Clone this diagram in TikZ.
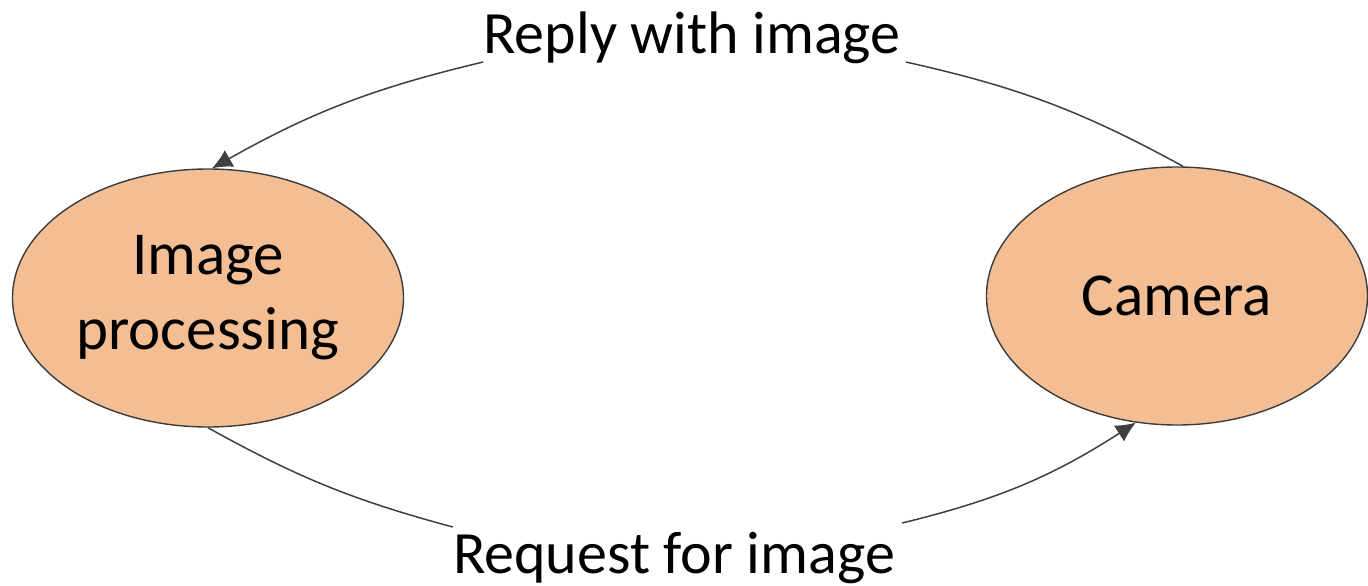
\documentclass[tikz,border=0pt]{standalone}
\usepackage{fontspec}
\setmainfont{Carlito}
\usetikzlibrary{shapes.geometric,arrows.meta}
\definecolor{ellfill}{HTML}{F3BE93}
\definecolor{ellline}{HTML}{3C3C3C}
\definecolor{connline}{HTML}{404040}
\begin{document}
\begin{tikzpicture}[x=1pt,y=-1pt,
  ellnode/.style={ellipse,draw=ellline,line width=1.4pt,fill=ellfill,inner sep=0pt,
    align=center,font=\fontsize{61}{75}\selectfont},
  lbl/.style={inner sep=0pt,font=\fontsize{60}{73}\selectfont},
  conn/.style={draw=connline,line width=1.5pt},
  tip/.style={-{Latex[length=20pt,width=19pt]}}]
\useasboundingbox (0,0) rectangle (1368,586);
\node[ellnode,minimum width=391pt,minimum height=258pt] (imgp) at (208,298) {Image\\processing};
\node[ellnode,minimum width=381pt,minimum height=258pt] (cam) at (1177,296) {Camera};
\node[lbl,anchor=base] (reply) at (692,54) {Reply with image};
\node[lbl,anchor=base] (req) at (674,573) {Request for image};
\draw[conn,tip] ([xshift=6pt]cam.north) to[bend right=8] ([xshift=5pt,yshift=-8pt]reply.base east)
  ([yshift=-8pt]reply.base west) to[bend right=8] ([xshift=4pt]imgp.north);
\draw[conn,tip] (imgp.south) to[bend right=7] ([yshift=46pt]req.base west)
  ([xshift=7pt,yshift=50pt]req.base east) to[bend right=9.5] (cam.-108.5);
\end{tikzpicture}
\end{document}
